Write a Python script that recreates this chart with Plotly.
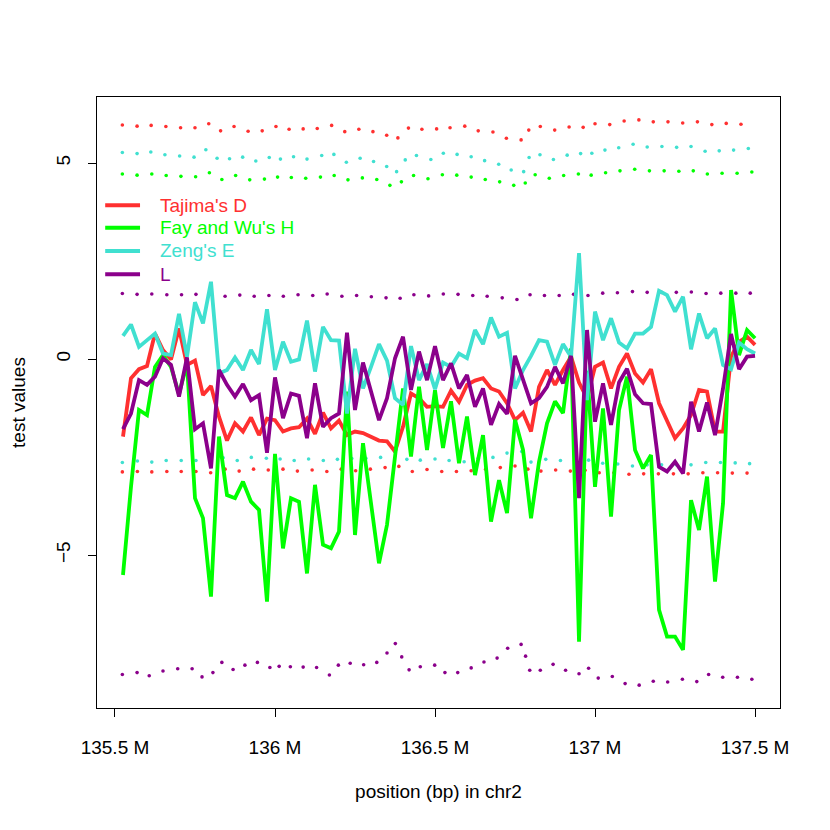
import plotly.graph_objects as go

# window positions (Mb)
positions = [135.525, 135.55, 135.575, 135.6, 135.625, 135.65, 135.675, 135.7, 135.725, 135.75,
             135.775, 135.8, 135.825, 135.85, 135.875, 135.9, 135.925, 135.95, 135.975, 136.0,
             136.025, 136.05, 136.075, 136.1, 136.125, 136.15, 136.175, 136.2, 136.225, 136.25,
             136.275, 136.3, 136.325, 136.35, 136.375, 136.4, 136.425, 136.45, 136.475, 136.5,
             136.525, 136.55, 136.575, 136.6, 136.625, 136.65, 136.675, 136.7, 136.725, 136.75,
             136.775, 136.8, 136.825, 136.85, 136.875, 136.9, 136.925, 136.95, 136.975, 137.0,
             137.025, 137.05, 137.075, 137.1, 137.125, 137.15, 137.175, 137.2, 137.225, 137.25,
             137.275, 137.3, 137.325, 137.35, 137.375, 137.4, 137.425, 137.45, 137.475, 137.5]

tajima_d = [-1.98, -0.49, -0.26, -0.18, 0.65, 0.23, -0.01, 0.78, -0.15, -0.04,
            -0.92, -0.69, -1.47, -2.08, -1.64, -1.85, -1.49, -1.94, -1.52, -1.56,
            -1.85, -1.77, -1.74, -1.52, -1.91, -1.37, -1.77, -1.57, -1.94, -1.85,
            -1.89, -1.98, -2.08, -2.10, -2.36, -1.73, -0.88, -1.00, -1.22, -1.20,
            -1.22, -0.81, -1.09, -0.66, -0.55, -0.49, -0.75, -0.83, -1.13, -1.56,
            -1.37, -1.85, -0.71, -0.28, -0.66, -0.28, 0.06, -0.60, -1.00, -0.20,
            -0.09, -0.75, -0.20, 0.14, -0.37, -0.60, -0.26, -1.13, -1.56, -2.02,
            -1.77, -1.43, -0.79, -0.83, -1.85, -1.85, 0.06, 0.44, 0.57, 0.36]

fay_wu_h = [-5.51, -3.26, -1.30, -1.43, -0.20, 0.10, -0.20, -0.90, -0.10, -3.55,
            -4.06, -6.06, -1.98, -3.47, -3.55, -3.13, -3.64, -3.85, -6.19, -2.42,
            -4.83, -3.55, -3.64, -5.47, -3.21, -4.74, -4.83, -4.40, -0.83, -4.49,
            -2.15, -3.68, -5.21, -4.23, -2.49, -0.75, -2.49, -0.71, -2.32, -0.80,
            -2.27, -1.08, -2.66, -1.47, -2.96, -1.94, -4.15, -3.09, -3.93, -1.55,
            -2.32, -4.06, -2.62, -1.64, -1.08, -1.38, 0.27, -7.21, -0.30, -3.26,
            -1.26, -4.02, -1.30, -0.45, -2.32, -2.79, -2.45, -6.40, -7.08, -7.08,
            -7.42, -3.60, -4.36, -3.00, -5.68, -3.68, 1.76, 0.10, 0.74, 0.53]

zeng_e = [0.59, 0.88, 0.31, 0.48, 0.65, 0.14, 0.10, 1.15, 0.06, 1.45,
          0.91, 1.97, -0.37, -0.28, 0.04, -0.28, 0.23, -0.13, 1.27, -0.28,
          0.44, -0.07, -0.01, 0.98, -0.32, 0.82, 0.48, 0.47, -1.39, 0.26,
          -0.75, -0.20, 0.38, -0.04, -1.00, -1.17, 0.33, -0.54, -0.13, -0.77,
          -0.09, -0.20, 0.14, 0.02, 0.74, 0.38, 1.06, 0.57, 0.67, -0.75,
          -0.28, 0.08, 0.48, 0.44, -0.15, 0.38, 0.06, 2.70, -1.05, 1.21,
          0.48, 1.04, 0.42, 0.27, 0.65, 0.65, 0.82, 1.74, 1.63, 1.21,
          1.59, 0.25, 1.16, 0.53, 0.78, -0.15, -0.26, 0.42, 0.25, 0.14]

l_test = [-1.79, -1.39, -0.54, -0.66, -0.45, 0.02, -0.15, -0.96, 0.04, -1.79,
          -1.64, -2.79, -0.28, -0.66, -0.96, -0.64, -1.05, -0.92, -2.39, -0.47,
          -1.51, -0.88, -0.94, -2.02, -0.62, -1.73, -1.51, -1.39, 0.67, -1.30,
          -0.09, -0.79, -1.56, -1.00, 0.02, 0.57, -0.79, 0.19, -0.54, 0.33,
          -0.54, -0.11, -0.75, -0.41, -1.22, -0.75, -1.68, -1.15, -1.40, 0.08,
          -0.54, -1.13, -1.00, -0.71, -0.20, -0.62, 0.08, -3.55, 0.74, -1.60,
          -0.62, -1.68, -0.60, -0.25, -0.90, -1.13, -1.15, -2.75, -2.87, -2.62,
          -2.92, -1.09, -1.85, -1.11, -1.94, -0.75, 0.64, -0.26, 0.06, 0.08]

# significance thresholds (read at the dots of the dotted lines)
tajima_upper_x = [135.523, 135.569, 135.613, 135.659, 135.705, 135.75, 135.793, 135.830, 135.872, 135.916,
                  135.960, 136.003, 136.044, 136.088, 136.132, 136.177, 136.218, 136.262, 136.306, 136.349,
                  136.384, 136.417, 136.459, 136.505, 136.547, 136.593, 136.635, 136.681, 136.723, 136.769,
                  136.793, 136.829, 136.874, 136.919, 136.963, 137.0, 137.046, 137.091, 137.137, 137.182,
                  137.228, 137.274, 137.320, 137.365, 137.410, 137.456]
tajima_upper = [5.97, 5.94, 5.96, 5.93, 5.90, 5.90, 6.00, 5.82, 5.93, 5.81,
                5.82, 5.93, 5.86, 5.87, 5.88, 5.96, 5.80, 5.86, 5.80, 5.71,
                5.64, 5.89, 5.86, 5.87, 5.90, 5.94, 5.82, 5.79, 5.63, 5.59,
                5.84, 5.93, 5.84, 5.92, 5.91, 6.00, 5.98, 6.07, 6.10, 6.05,
                6.05, 6.02, 6.05, 5.98, 6.01, 5.99]

zeng_upper_x = [135.523, 135.569, 135.612, 135.656, 135.702, 135.747, 135.784, 135.819, 135.858, 135.899,
                135.940, 135.982, 136.017, 136.058, 136.100, 136.146, 136.184, 136.223, 136.266, 136.308,
                136.349, 136.380, 136.407, 136.442, 136.487, 136.526, 136.569, 136.613, 136.655, 136.699,
                136.738, 136.777, 136.794, 136.828, 136.870, 136.913, 136.955, 136.990, 137.031, 137.074,
                137.119, 137.163, 137.209, 137.255, 137.300, 137.344, 137.388, 137.433, 137.479]
zeng_upper = [5.27, 5.24, 5.28, 5.21, 5.18, 5.15, 5.34, 5.12, 5.11, 5.15,
              5.05, 5.14, 5.10, 5.16, 5.10, 5.19, 5.22, 5.02, 5.12, 5.04,
              4.91, 4.78, 5.08, 5.19, 5.09, 5.25, 5.22, 5.16, 5.06, 4.97,
              4.82, 4.78, 5.14, 5.21, 5.09, 5.20, 5.24, 5.25, 5.33, 5.39,
              5.48, 5.41, 5.42, 5.40, 5.42, 5.30, 5.31, 5.33, 5.37]

fay_upper_x = [135.523, 135.569, 135.615, 135.660, 135.706, 135.752, 135.795, 135.834, 135.877, 135.921,
               135.967, 136.008, 136.051, 136.096, 136.142, 136.185, 136.228, 136.273, 136.318, 136.359,
               136.395, 136.433, 136.478, 136.523, 136.568, 136.613, 136.657, 136.702, 136.746, 136.782,
               136.813, 136.857, 136.902, 136.948, 136.988, 137.033, 137.078, 137.124, 137.170, 137.216,
               137.262, 137.307, 137.351, 137.397, 137.444, 137.490]
fay_upper = [4.72, 4.69, 4.72, 4.68, 4.66, 4.65, 4.75, 4.58, 4.68, 4.57,
             4.59, 4.64, 4.63, 4.61, 4.64, 4.68, 4.57, 4.62, 4.58, 4.43,
             4.52, 4.68, 4.60, 4.70, 4.69, 4.64, 4.58, 4.52, 4.43, 4.49,
             4.70, 4.61, 4.68, 4.72, 4.69, 4.75, 4.80, 4.84, 4.80, 4.80,
             4.79, 4.80, 4.72, 4.74, 4.74, 4.77]

l_upper_x = [135.523, 135.569, 135.615, 135.662, 135.708, 135.753, 135.799, 135.844, 135.890, 135.935,
             135.981, 136.026, 136.072, 136.118, 136.163, 136.209, 136.255, 136.301, 136.347, 136.391,
             136.434, 136.480, 136.526, 136.572, 136.618, 136.663, 136.710, 136.756, 136.797, 136.842,
             136.888, 136.933, 136.978, 137.024, 137.070, 137.117, 137.163, 137.208, 137.254, 137.301,
             137.347, 137.393, 137.440, 137.485]
l_upper = [1.67, 1.65, 1.66, 1.64, 1.64, 1.65, 1.68, 1.60, 1.63, 1.60,
           1.62, 1.60, 1.64, 1.62, 1.66, 1.60, 1.62, 1.59, 1.56, 1.55,
           1.64, 1.61, 1.66, 1.65, 1.62, 1.60, 1.56, 1.52, 1.64, 1.62,
           1.62, 1.65, 1.62, 1.68, 1.69, 1.72, 1.70, 1.70, 1.70, 1.71,
           1.67, 1.68, 1.68, 1.68]

zeng_lower_x = [135.523, 135.570, 135.615, 135.660, 135.707, 135.753, 135.799, 135.838, 135.882, 135.926,
                135.973, 136.016, 136.060, 136.105, 136.151, 136.195, 136.240, 136.284, 136.330, 136.374,
                136.412, 136.454, 136.500, 136.544, 136.591, 136.635, 136.681, 136.725, 136.771, 136.800,
                136.846, 136.892, 136.937, 136.980, 137.024, 137.071, 137.117, 137.163, 137.208, 137.254,
                137.300, 137.346, 137.392, 137.438, 137.483]
zeng_lower = [-2.64, -2.60, -2.63, -2.59, -2.59, -2.59, -2.66, -2.52, -2.59, -2.51,
              -2.53, -2.55, -2.59, -2.55, -2.59, -2.56, -2.54, -2.53, -2.51, -2.36,
              -2.56, -2.58, -2.55, -2.59, -2.62, -2.53, -2.51, -2.40, -2.36, -2.63,
              -2.56, -2.59, -2.62, -2.58, -2.66, -2.68, -2.73, -2.70, -2.70, -2.70,
              -2.70, -2.64, -2.64, -2.65, -2.67]

tajima_lower_x = [135.523, 135.570, 135.615, 135.662, 135.707, 135.753, 135.799, 135.844, 135.888, 135.933,
                  135.979, 136.025, 136.070, 136.116, 136.162, 136.207, 136.252, 136.298, 136.344, 136.387,
                  136.429, 136.475, 136.521, 136.567, 136.613, 136.658, 136.704, 136.750, 136.790, 136.831,
                  136.877, 136.923, 136.969, 137.013, 137.059, 137.106, 137.152, 137.198, 137.245, 137.291,
                  137.337, 137.383, 137.429, 137.475]
tajima_lower = [-2.88, -2.87, -2.88, -2.87, -2.87, -2.87, -2.90, -2.81, -2.86, -2.81,
                -2.83, -2.81, -2.86, -2.83, -2.87, -2.81, -2.85, -2.81, -2.77, -2.74,
                -2.87, -2.82, -2.87, -2.87, -2.85, -2.81, -2.77, -2.73, -2.81, -2.86,
                -2.83, -2.86, -2.84, -2.90, -2.90, -2.94, -2.93, -2.93, -2.93, -2.93,
                -2.90, -2.90, -2.91, -2.91]

l_lower_x = [135.523, 135.569, 135.607, 135.650, 135.696, 135.741, 135.772, 135.806, 135.834, 135.869,
             135.906, 135.945, 135.984, 136.013, 136.048, 136.088, 136.130, 136.170, 136.198, 136.235,
             136.277, 136.318, 136.350, 136.376, 136.396, 136.419, 136.454, 136.499, 136.531, 136.571,
             136.613, 136.653, 136.694, 136.727, 136.769, 136.783, 136.796, 136.829, 136.869, 136.908,
             136.950, 136.980, 137.010, 137.054, 137.094, 137.138, 137.182, 137.227, 137.273, 137.318,
             137.355, 137.399, 137.445, 137.490]
l_lower = [-8.05, -8.00, -8.08, -7.96, -7.90, -7.90, -8.11, -8.00, -7.74, -7.92,
           -7.81, -7.74, -7.87, -7.84, -7.85, -7.86, -7.87, -8.06, -7.81, -7.76,
           -7.80, -7.74, -7.50, -7.26, -7.60, -7.93, -7.85, -7.81, -8.00, -8.00,
           -7.88, -7.73, -7.63, -7.38, -7.28, -7.58, -7.94, -7.94, -7.79, -7.94,
           -8.03, -7.89, -8.14, -8.10, -8.28, -8.32, -8.22, -8.24, -8.17, -8.23,
           -8.05, -8.12, -8.12, -8.17]

x_tickvals = [135.5, 136.0, 136.5, 137.0, 137.5]
x_ticktext = ["135.5 M", "136 M", "136.5 M", "137 M", "137.5 M"]
y_tickvals = [-5, 0, 5]

RED = "#FF3030"
GREEN = "#00FF00"
CYAN = "#40E0D0"
PURPLE = "#8B008B"

fig = go.Figure()

dots = [
    (tajima_upper_x, tajima_upper, RED),
    (tajima_lower_x, tajima_lower, RED),
    (fay_upper_x, fay_upper, GREEN),
    (zeng_upper_x, zeng_upper, CYAN),
    (zeng_lower_x, zeng_lower, CYAN),
    (l_upper_x, l_upper, PURPLE),
    (l_lower_x, l_lower, PURPLE),
]
for xs, ys, c in dots:
    fig.add_trace(go.Scatter(x=xs, y=ys, mode="markers",
                             marker=dict(color=c, size=3.6, line=dict(width=0)),
                             showlegend=False, hoverinfo="skip"))

series = [
    ("Tajima's D", tajima_d, RED),
    ("Fay and Wu's H", fay_wu_h, GREEN),
    ("Zeng's E", zeng_e, CYAN),
    ("L", l_test, PURPLE),
]
for name, ys, c in series:
    fig.add_trace(go.Scatter(x=positions, y=ys, mode="lines",
                             line=dict(color=c, width=3.8),
                             name=name, showlegend=False))

# hand-drawn legend in the top-left corner (like R's legend(bty="n"))
legend_rows_y = [0.823, 0.786, 0.748, 0.710]
for (name, _, c), ly in zip(series, legend_rows_y):
    fig.add_shape(type="line", xref="paper", yref="paper",
                  x0=0.012, x1=0.063, y0=ly, y1=ly,
                  line=dict(color=c, width=4))
    fig.add_annotation(xref="paper", yref="paper", x=0.089, y=ly,
                       xanchor="left", yanchor="middle", showarrow=False,
                       text=name, font=dict(color=c, size=19))

fig.update_layout(
    width=830, height=830,
    margin=dict(l=89, r=58, t=89, b=130),
    paper_bgcolor="white", plot_bgcolor="white",
    font=dict(family="Liberation Sans, Arial, sans-serif", size=19, color="black"),
    showlegend=False,
)
fig.update_xaxes(
    range=[135.4438, 137.578], tickvals=x_tickvals, ticktext=x_ticktext,
    ticks="outside", ticklen=8, tickcolor="black", tickwidth=1,
    showline=True, mirror=True, linecolor="black", linewidth=1,
    showgrid=False, zeroline=False, ticklabelstandoff=14,
    tickfont=dict(size=19), automargin=False,
    title=dict(text="position (bp) in chr2", standoff=27, font=dict(size=19)),
)
fig.update_yaxes(
    range=[-8.903, 6.684], tickvals=y_tickvals,
    ticks="outside", ticklen=8, tickcolor="black", tickwidth=1,
    showline=True, mirror=True, linecolor="black", linewidth=1,
    showgrid=False, zeroline=False, tickangle=-90, ticklabelstandoff=10,
    tickfont=dict(size=19), automargin=False,
    title=dict(text="test values", standoff=25, font=dict(size=19)),
)

fig.write_html("out.html")
